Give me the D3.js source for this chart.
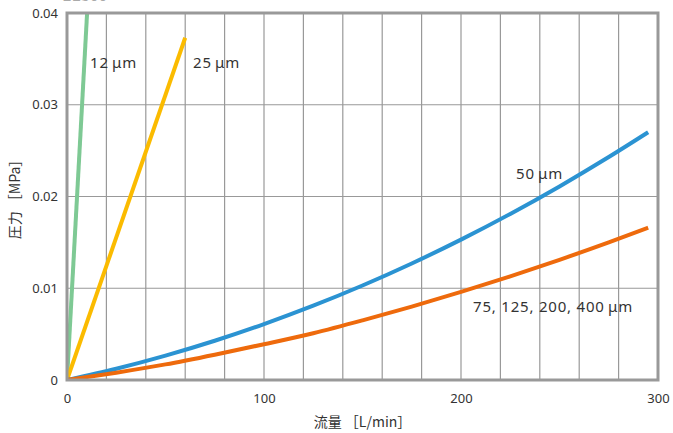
<!DOCTYPE html>
<html>
<head>
<meta charset="utf-8">
<script src="https://d3js.org/d3.v7.min.js"></script>
<style>
  body { margin: 0; background: #fff; }
  text { font-family: "Noto Sans CJK JP", "Noto Sans", sans-serif; fill: #333; }
</style>
</head>
<body>
<svg></svg>
<script>
  var svgWidth = 673, svgHeight = 433;

  // flow [L/min] vs pressure [MPa]
  var xTicks = [0, 100, 200, 300];
  var yTicks = [0, 0.01, 0.02, 0.03, 0.04];
  var yTickLabels = ["0", "0.01", "0.02", "0.03", "0.04"];

  var q12 = [0, 10.2];
  var p12 = [0, 0.04];
  var q25 = [0, 60];
  var p25 = [0, 0.0373];
  var q50 = [0, 25, 50, 75, 100, 125, 150, 175, 200, 225, 250, 275, 295];
  var p50 = [0, 0.00123, 0.00266, 0.00428, 0.0061, 0.0081, 0.0103, 0.0127, 0.0153, 0.0181, 0.0211, 0.0243, 0.027];
  var q75 = [0, 25, 50, 75, 100, 125, 150, 175, 200, 225, 250, 275, 295];
  var p75 = [0, 0.0008, 0.0017, 0.00276, 0.0039, 0.0051, 0.0065, 0.008, 0.0096, 0.0113, 0.0131, 0.015, 0.0166];

  var series = [
    {name: "12\u2009\u03bcm", q: q12, p: p12, color: "#7ec994", lx: 90, ly: 68},
    {name: "25\u2009\u03bcm", q: q25, p: p25, color: "#fbbb00", lx: 193, ly: 68},
    {name: "50\u2009\u03bcm", q: q50, p: p50, color: "#2b93d2", lx: 516, ly: 179},
    {name: "75, 125, 200, 400\u2009\u03bcm", q: q75, p: p75, color: "#ee6a0c", lx: 473, ly: 312}
  ];

  var svg = d3.select("svg").attr("width", svgWidth).attr("height", svgHeight);

  var pl = 67, pr = 658, pt = 13, pb = 380;
  var x = d3.scaleLinear().domain([0, 300]).range([pl, pr]);
  var y = d3.scaleLinear().domain([0, 0.04]).range([pb, pt]);

  // cut-off heading at the very top
  svg.append("text").attr("x", 62).attr("y", 1).style("font-size", "16px")
     .style("fill", "#aaa").text("EE300");

  // grid
  var grid = svg.append("g");
  grid.selectAll("line.v").data(d3.range(20, 300, 20)).enter().append("line")
      .attr("x1", d => x(d)).attr("x2", d => x(d)).attr("y1", pt).attr("y2", pb)
      .attr("stroke", "#999").attr("stroke-width", 1.2);
  grid.selectAll("line.h").data([0.01, 0.02, 0.03]).enter().append("line")
      .attr("y1", d => y(d)).attr("y2", d => y(d)).attr("x1", pl).attr("x2", pr)
      .attr("stroke", "#999").attr("stroke-width", 1.2);

  svg.append("defs").append("clipPath").attr("id", "clip")
     .append("rect").attr("x", pl).attr("y", pt).attr("width", pr - pl).attr("height", pb - pt);

  var line = d3.line().x(d => x(d[0])).y(d => y(d[1])).curve(d3.curveMonotoneX);

  svg.append("g").attr("clip-path", "url(#clip)")
     .selectAll("path").data(series).enter().append("path")
     .attr("d", s => line(d3.zip(s.q, s.p)))
     .attr("fill", "none").attr("stroke", s => s.color).attr("stroke-width", 4)
     .attr("stroke-linecap", "butt");

  // frame
  svg.append("rect").attr("x", pl).attr("y", pt).attr("width", pr - pl).attr("height", pb - pt)
     .attr("fill", "none").attr("stroke", "#999").attr("stroke-width", 3);

  // axes
  var xAxis = d3.axisBottom(x).tickValues(xTicks).tickSize(0).tickPadding(14);
  var gx = svg.append("g").attr("transform", "translate(0," + pb + ")").call(xAxis);
  gx.select(".domain").remove();
  gx.selectAll("text").style("font-size", "13px").style("fill", "#333").style("font-family", "\"Noto Sans\", sans-serif");

  var yAxis = d3.axisLeft(y).tickValues(yTicks).tickSize(0).tickPadding(9)
                .tickFormat((d, i) => yTickLabels[i]);
  var gy = svg.append("g").attr("transform", "translate(" + pl + ",0)").call(yAxis);
  gy.select(".domain").remove();
  gy.selectAll("text").style("font-size", "13px").style("fill", "#333").style("font-family", "\"Noto Sans\", sans-serif");

  svg.append("text").attr("x", (pl + pr) / 2).attr("y", 427).attr("text-anchor", "middle")
     .style("font-size", "14px").text("流量 ［L/min］");
  svg.append("text").attr("transform", "translate(20,196) rotate(-90)").attr("text-anchor", "middle")
     .style("font-size", "14px").text("圧力 ［MPa］");

  // curve labels
  svg.selectAll("text.lab").data(series).enter().append("text")
     .attr("x", s => s.lx).attr("y", s => s.ly)
     .style("font-size", "15px").style("letter-spacing", "0.8px")
     .style("font-family", "\"Noto Sans\", sans-serif")
     .text(s => s.name);
</script>
</body>
</html>
